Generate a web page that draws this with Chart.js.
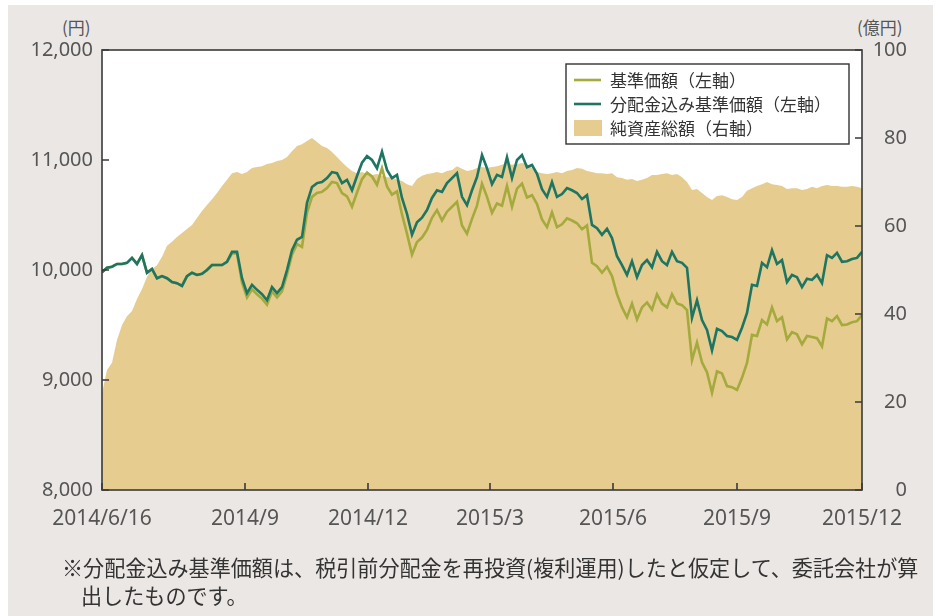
<!DOCTYPE html>
<html><head><meta charset="utf-8">
<script src="https://cdn.jsdelivr.net/npm/chart.js@4"></script>
<style>
html,body{margin:0;padding:0;background:#fff;}
#wrap{position:absolute;left:0;top:0;width:943px;height:616px;overflow:hidden;}
#panel{position:absolute;left:8px;top:5px;width:925px;height:611px;background:#ebe7e4;}
canvas{position:absolute;left:0;top:0;}
.unit{position:absolute;top:14px;font-family:'Noto Sans CJK JP','Noto Sans',sans-serif;font-size:17px;color:#555;}
#note{position:absolute;left:62px;top:553px;font-family:'Noto Sans CJK JP',sans-serif;font-size:21.1px;color:#333;line-height:28px;white-space:nowrap;}
#note span{display:inline-block;margin-left:19px;}
</style></head>
<body>
<div id="wrap">
<div id="panel"></div>
<div class="unit" style="left:62px;">(円)</div>
<div class="unit" style="left:857px;">(億円)</div>
<canvas id="c" width="943" height="616"></canvas>
<div id="note">※分配金込み基準価額は、税引前分配金を再投資(複利運用)したと仮定して、委託会社が算<br><span>出したものです。</span></div>
</div>
<script>
// 分配金込み基準価額（左軸, 円）
const navWithDiv = [9980,10020,10030,10055,10055,10065,10110,10055,10135,9975,
10010,9925,9945,9925,9890,9880,9855,9945,9975,9955,
9965,10000,10045,10045,10045,10075,10165,10165,9925,9790,
9865,9820,9780,9725,9845,9790,9845,10000,10180,10275,
10300,10610,10755,10790,10800,10835,10890,10880,10790,10820,
10725,10855,10975,11035,11000,10925,11075,10910,10835,10865,
10655,10510,10320,10435,10475,10545,10655,10725,10710,10790,
10835,10880,10665,10590,10725,10845,11045,10925,10780,10865,
10845,11025,10835,11000,11045,10935,10955,10875,10735,10665,
10800,10665,10690,10745,10725,10700,10645,10680,10410,10380,
10320,10375,10290,10125,10045,9955,10080,9935,10045,10090,
10025,10165,10080,10045,10165,10080,10065,10020,9565,9725,
9545,9455,9270,9465,9445,9400,9390,9365,9475,9610,
9865,9855,10065,10025,10180,10055,10090,9890,9955,9935,
9845,9920,9910,9955,9880,10135,10110,10155,10075,10080,
10100,10110,10165];
// 基準価額（左軸, 円）
const nav = [9980,10020,10030,10055,10055,10065,10110,10055,10135,9975,
10010,9925,9945,9925,9890,9880,9855,9945,9975,9955,
9965,10000,10045,10045,10045,10075,10150,10150,
9885,9750,9825,9780,9740,9685,9805,9750,9805,9960,10140,10235,
10210,10520,10665,10700,10710,10745,10800,10790,10700,
10670,10575,10705,10825,10885,10850,10775,10925,10760,10685,10715,10505,
10330,10140,10255,10295,10365,10475,10545,
10450,10530,10575,10620,10405,10330,10465,10585,10785,10665,10520,10605,10585,10765,10575,10740,10785,
10660,10680,10600,10460,10390,10525,10390,10415,10470,10450,10425,10370,10405,
10065,10035,9975,10030,9945,9780,
9660,9570,9695,9550,9660,9705,9640,9780,9695,9660,9780,9695,9680,9635,9180,9340,9160,9070,8885,9080,9060,
8945,8935,8910,9020,9155,9410,9400,
9545,9505,9660,9535,9570,9370,9435,9415,9325,9400,9390,
9380,9305,9560,9535,9580,9500,9505,9525,9535,9590];
// 純資産総額（右軸, 億円）
const netAssets = [22.0,27.3,28.9,34.1,37.5,39.5,40.7,43.4,45.7,48.4,
50.2,51.1,53.0,55.5,56.4,57.5,58.4,59.3,60.2,61.8,
63.4,64.8,66.1,67.5,69.1,70.5,72.0,72.3,71.8,72.3,
73.2,73.4,73.6,74.1,74.3,74.8,75.0,75.7,77.0,78.2,
78.6,79.3,80.0,79.1,78.2,77.7,76.8,75.7,74.5,73.4,
72.5,72.0,72.3,71.8,71.6,71.8,71.4,71.1,71.1,70.5,
70.2,69.5,69.1,70.7,71.4,71.8,72.0,72.3,72.0,72.5,
72.7,73.6,73.0,72.5,72.7,73.2,73.4,73.2,73.4,73.6,
73.9,74.3,73.9,74.1,74.3,74.1,73.2,72.3,72.0,71.8,
72.0,72.3,72.0,72.5,72.7,73.2,73.0,72.5,72.3,72.0,
72.0,71.8,72.0,71.1,70.9,70.5,70.7,70.2,70.5,70.9,
71.6,71.6,71.8,72.0,71.6,71.8,71.1,70.0,68.2,68.4,
67.5,66.6,65.9,66.8,67.0,66.6,66.1,65.9,66.6,68.0,
68.6,69.1,69.5,70.0,69.5,69.3,69.1,68.4,68.6,68.6,
68.2,68.4,68.9,68.6,69.1,69.3,69.1,69.1,68.9,68.9,
69.1,68.9,68.6];
// x軸目盛（サンプル番号上の位置）とラベル
const xTickPos = [0, 28.6, 53.2, 77.6, 102.2, 127, 152];
const xTickLabels = ['2014/6/16','2014/9','2014/12','2015/3','2015/6','2015/9','2015/12'];
const legendLabels = ['基準価額（左軸）','分配金込み基準価額（左軸）','純資産総額（右軸）'];

const C_NAV = '#a4aa3e', C_DIV = '#1d7562', C_AREA = '#e6cc8e';
const toXY = arr => arr.map((v,i)=>({x:i,y:v}));
const tickFont = {family:"'Noto Sans','Open Sans',sans-serif", size:20};
const xFont = {family:"'Noto Sans','Open Sans',sans-serif", size:21};

const framePlugin = {
  id:'frame',
  beforeDatasetsDraw(chart){
    const {ctx, chartArea:a} = chart;
    ctx.save(); ctx.fillStyle='#fff'; ctx.fillRect(a.left,a.top,a.right-a.left,a.bottom-a.top); ctx.restore();
  },
  afterDatasetsDraw(chart){
    const {ctx, chartArea:a, scales} = chart;
    ctx.save();
    ctx.strokeStyle='#3a3a3a'; ctx.lineWidth=1.6;
    ctx.beginPath();
    const L=7;
    scales.y.ticks.forEach(t=>{const p=scales.y.getPixelForValue(t.value); ctx.moveTo(a.left,p); ctx.lineTo(a.left+L,p);});
    scales.y1.ticks.forEach(t=>{const p=scales.y1.getPixelForValue(t.value); ctx.moveTo(a.right,p); ctx.lineTo(a.right-L,p);});
    scales.x.ticks.forEach(t=>{const p=scales.x.getPixelForValue(t.value); ctx.moveTo(p,a.bottom); ctx.lineTo(p,a.bottom-L);});
    ctx.stroke();
    ctx.strokeRect(a.left,a.top,a.right-a.left,a.bottom-a.top);
    // legend
    const w=283,h=80, lx=a.right-13-w, ly=a.top+14;
    ctx.fillStyle='#fff'; ctx.fillRect(lx,ly,w,h);
    ctx.lineWidth=1.4; ctx.strokeStyle='#333'; ctx.strokeRect(lx,ly,w,h);
    ctx.font="17px 'Noto Sans CJK JP'"; ctx.fillStyle='#333'; ctx.textBaseline='middle'; ctx.textAlign='left';
    const rows=[ly+16,ly+40,ly+64];
    ctx.lineWidth=2.6;
    ctx.strokeStyle=C_NAV; ctx.beginPath(); ctx.moveTo(lx+8,rows[0]); ctx.lineTo(lx+35,rows[0]); ctx.stroke();
    ctx.strokeStyle=C_DIV; ctx.beginPath(); ctx.moveTo(lx+8,rows[1]); ctx.lineTo(lx+35,rows[1]); ctx.stroke();
    ctx.fillStyle=C_AREA; ctx.fillRect(lx+8,rows[2]-8,28,16);
    ctx.fillStyle='#333';
    legendLabels.forEach((s,i)=>ctx.fillText(s,lx+44,rows[i]+1));
    ctx.restore();
  }
};

new Chart(document.getElementById('c'),{
  type:'line',
  data:{datasets:[
    {label:legendLabels[1], data:toXY(navWithDiv), borderColor:C_DIV, borderWidth:2.6, pointRadius:0, tension:0, yAxisID:'y', order:0},
    {label:legendLabels[0], data:toXY(nav), borderColor:C_NAV, borderWidth:2.6, pointRadius:0, tension:0, yAxisID:'y', order:1},
    {label:legendLabels[2], data:toXY(netAssets), borderWidth:0, borderColor:C_AREA, backgroundColor:C_AREA, fill:'origin', pointRadius:0, tension:0, yAxisID:'y1', order:2}
  ]},
  options:{
    responsive:false, animation:false, events:[],
    layout:{padding:{left:0,right:36,top:50,bottom:86}},
    plugins:{legend:{display:false}, tooltip:{enabled:false}},
    scales:{
      x:{type:'linear', min:0, max:netAssets.length-1,
        afterBuildTicks(s){ s.ticks = xTickPos.map(v=>({value:v})); },
        afterFit(s){ s.height=40; },
        ticks:{autoSkip:false, maxRotation:0, padding:16, font:xFont, color:'#555', callback:(v,i)=>xTickLabels[i]},
        grid:{display:false, drawTicks:false}, border:{display:false}},
      y:{position:'left', min:8000, max:12000,
        afterFit(s){ s.width=102; },
        ticks:{stepSize:1000, padding:9, font:tickFont, color:'#555', callback:v=>v.toLocaleString('en-US')},
        grid:{display:false, drawTicks:false}, border:{display:false}},
      y1:{position:'right', min:0, max:100,
        afterFit(s){ s.width=45; },
        ticks:{stepSize:20, crossAlign:'far', font:tickFont, color:'#555'},
        grid:{display:false, drawTicks:false}, border:{display:false}}
    }
  },
  plugins:[framePlugin]
});
</script>
</body></html>
